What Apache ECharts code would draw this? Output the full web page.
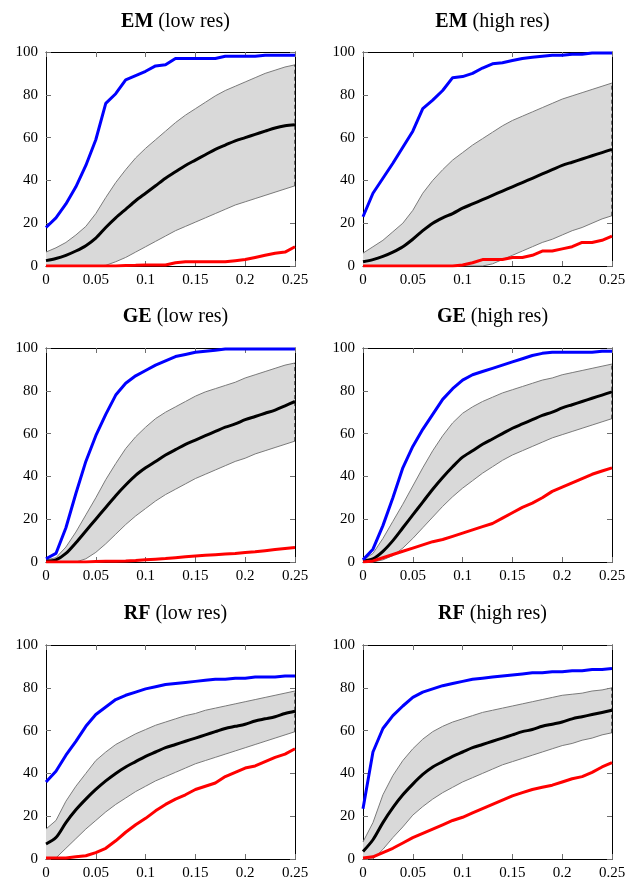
<!DOCTYPE html>
<html><head><meta charset="utf-8">
<script src="https://cdn.jsdelivr.net/npm/echarts@6/dist/echarts.min.js"></script>
<style>html,body{margin:0;padding:0;background:#fff}#c{width:641px;height:881px}</style>
</head><body><div id="c"></div>
<script>
const xValues = [0,0.01,0.02,0.03,0.04,0.05,0.06,0.07,0.08,0.09,0.1,0.11,0.12,0.13,0.14,0.15,0.16,0.17,0.18,0.19,0.2,0.21,0.22,0.23,0.24,0.25];
const xTickLabels = ['0','0.05','0.1','0.15','0.2','0.25'];

// EM (low res)
const emLowBlue  = [18,22.5,29,37,47,59,76,80.5,87,89,91,93.5,94,97,97,97,97,97,98,98,98,98,98.5,98.5,98.5,98.5];
const emLowMean  = [2.5,3.5,5,7,9.5,13,18,22.5,26.5,30.5,34,37.5,41,44,47,49.5,52,54.5,56.5,58.5,60,61.5,63,64.5,65.5,66];
const emLowUpper = [6.5,8.5,11,14.5,18.5,24.5,32,39,45,50.5,55,59,63,67,70.5,73.5,76.5,79.5,82,84,86,88,90,91.5,93,94];
const emLowLower = [0,0,0,0,0,0,0.3,2,4,6.5,9,11.5,14,16.5,18.5,20.5,22.5,24.5,26.5,28.5,30,31.5,33,34.5,36,37.5];
const emLowRed   = [0,0,0,0,0,0,0,0,0.2,0.3,0.5,0.5,0.5,1.5,2,2,2,2,2,2.5,3,4,5,6,6.5,9];

// EM (high res)
const emHighBlue  = [23,34,41,48,55.5,63,73.5,77.5,82,88,88.5,90,92.5,94.5,95,96,97,97.5,98,98.5,98.5,99,99,99.5,99.5,99.5];
const emHighMean  = [2,3,4.5,6.5,9,12.5,16.5,20,22.5,24.5,27,29,31,33,35,37,39,41,43,45,47,48.5,50,51.5,53,54.5];
const emHighUpper = [6,9,12,16,20,26,34,40,45,49.5,53,56.5,59.5,62.5,65.5,68,70,72,74,76,78,79.5,81,82.5,84,85.5];
const emHighLower = [0,0,0,0,0,0,0,0,0,0,0,0,0,1,3,5,7,9,11,12.5,14.5,16.5,18,20,22,23.5];
const emHighRed   = [0,0,0,0,0,0,0,0,0,0,0.5,1.5,3,3,3,4,4,5,7,7,8,9,11,11,12,14];

// GE (low res)
const geLowBlue  = [1.5,4,16,32,47,59,69,78,83.5,87,89.5,92,94,96,97,98,98.5,99,99.5,99.5,99.5,99.5,99.5,99.5,99.5,99.5];
const geLowMean  = [0.5,1,4,9,14.5,20,25.5,31,36,40.5,44,47,50,52.5,55,57,59,61,63,64.5,66.5,68,69.5,71,73,75];
const geLowUpper = [1,2,7,14,22,30,38.5,46,53,58.5,63,67,70,72.5,75,77.5,79.5,81,82.5,84,86,87.5,89,90.5,92,93];
const geLowLower = [0,0,0,0,1.5,4.5,8.5,13,17.5,21.5,25,28.5,31.5,34,36.5,39,41,43,45,47,48.5,50.5,52,53.5,55,56.5];
const geLowRed   = [0,0,0,0,0,0.2,0.3,0.4,0.5,0.7,1,1.3,1.6,2,2.4,2.8,3.1,3.4,3.7,4,4.4,4.8,5.3,5.8,6.3,6.8];

// GE (high res)
const geHighBlue  = [1,6,17,30,44,54,62,69,76,81,85,87.5,89,90.5,92,93.5,95,96.5,97.5,98,98,98,98,98,98.5,98.5];
const geHighMean  = [0.5,1.5,5,10,16,22,28,34,39.5,44.5,49,52,55,57.5,60,62.5,64.5,66.5,68.5,70,72,73.5,75,76.5,78,79.5];
const geHighUpper = [1,4,11,19,27,35.5,44,52,59,65,69.5,72.5,75,77,79,80.5,82,83.5,85,86,87.5,88.5,89.5,90.5,91.5,92.5];
const geHighLower = [0,0,1,3,6.5,11,16,21,26,30.5,34.5,38,41.5,44.5,47.5,50,52,54,56,58,59.5,61,62.5,64,65.5,67];
const geHighRed   = [0,0.5,2,3.5,5,6.5,8,9.5,10.5,12,13.5,15,16.5,18,20.5,23,25.5,27.5,30,33,35,37,39,41,42.5,44];

// RF (low res)
const rfLowBlue  = [36,41,48.5,55,62,67.5,71,74.5,76.5,78,79.5,80.5,81.5,82,82.5,83,83.5,84,84,84.5,84.5,85,85,85,85.5,85.5];
const rfLowMean  = [7,10,17,23,28,32.5,36.5,40,43,45.5,48,50,52,53.5,55,56.5,58,59.5,61,62,63,64.5,65.5,66.5,68,69];
const rfLowUpper = [14,18,27,34,40,46,50,53.5,56,58.5,60.5,62.5,64,65.5,67,68,69.5,70.5,71.5,72.5,73.5,74.5,75.5,76.5,77.5,78.5];
const rfLowLower = [0,0.5,5,9.5,14,18,22,25.5,28.5,31.5,34,36.5,38.5,40.5,42.5,44.5,46,47.5,49,50.5,52,53.5,55,56.5,58,59.5];
const rfLowRed   = [0.5,0.5,0.5,1,1.5,3,5,8.5,12.5,16,19,22.5,25.5,28,30,32.5,34,35.5,38.5,40.5,42.5,43.5,45.5,47.5,49,51.5];

// RF (high res)
const rfHighBlue  = [23.5,50,61,67,71.5,75.5,78,79.5,81,82,83,84,84.5,85,85.5,86,86.5,87,87,87.5,87.5,88,88,88.5,88.5,89];
const rfHighMean  = [3.5,9,17,24,30,35,39.5,43,45.5,48,50,52,53.5,55,56.5,58,59.5,60.5,62,63,64,65.5,66.5,67.5,68.5,69.5];
const rfHighUpper = [8,17,30,39,46,51.5,56,59.5,62,64,65.5,67,68.5,69.5,70.5,71.5,72.5,73.5,74.5,75.5,76.5,77,77.5,78.5,79,80];
const rfHighLower = [0,0,4.5,10,15,20.5,24.5,28,31,33.5,36,38,40,42,44,45.5,47,48.5,50,51.5,53,54,55.5,56.5,58,59];
const rfHighRed   = [0.5,1,3,5,7.5,10,12,14,16,18,19.5,21.5,23.5,25.5,27.5,29.5,31,32.5,33.5,34.5,36,37.5,38.5,40.5,43,45];

const titleBold = ['EM','EM','GE','GE','RF','RF'];
const titleRest = ['(low res)','(high res)','(low res)','(high res)','(low res)','(high res)'];

const panels = [
  {blue: emLowBlue, mean: emLowMean, upper: emLowUpper, lower: emLowLower, red: emLowRed},
  {blue: emHighBlue, mean: emHighMean, upper: emHighUpper, lower: emHighLower, red: emHighRed},
  {blue: geLowBlue, mean: geLowMean, upper: geLowUpper, lower: geLowLower, red: geLowRed},
  {blue: geHighBlue, mean: geHighMean, upper: geHighUpper, lower: geHighLower, red: geHighRed},
  {blue: rfLowBlue, mean: rfLowMean, upper: rfLowUpper, lower: rfLowLower, red: rfLowRed},
  {blue: rfHighBlue, mean: rfHighMean, upper: rfHighUpper, lower: rfHighLower, red: rfHighRed}
];

// layout
const gridLeft = [46, 363, 46, 363, 46, 363];
const gridTop = [52, 52, 348, 348, 645, 645];
const titleTop = [7, 7, 302, 302, 599, 599];
const GW = 249, GH = 214;
const FONT = '"Liberation Serif", "DejaVu Serif", serif';

const pair = (ys) => xValues.map((x, k) => [x, ys[k]]);

const option = {animation: false, title: [], grid: [], xAxis: [], yAxis: [], series: []};

panels.forEach((p, i) => {
  option.title.push({
    text: '{b|' + titleBold[i] + '} ' + titleRest[i],
    left: gridLeft[i] + GW / 2, top: titleTop[i], textAlign: 'center',
    textStyle: {fontFamily: FONT, fontSize: 20, fontWeight: 'normal', color: '#000',
      rich: {b: {fontFamily: FONT, fontSize: 20, fontWeight: 'bold', color: '#000'}}}
  });
  option.grid.push({left: gridLeft[i], top: gridTop[i], width: GW, height: GH, containLabel: false});
  const tick = {show: true, inside: true, length: 5, lineStyle: {color: '#6e6e6e', width: 1}};
  const line = {show: true, onZero: false, lineStyle: {color: '#000', width: 1}};
  option.xAxis.push({
    type: 'value', gridIndex: i, position: 'bottom', min: 0, max: 0.25, interval: 0.05,
    axisLine: line, axisTick: tick, splitLine: {show: false},
    axisLabel: {show: true, margin: 7, color: '#000', fontFamily: FONT, fontSize: 15,
      formatter: (v) => xTickLabels[Math.round(v / 0.05)]}
  });
  option.xAxis.push({
    type: 'value', gridIndex: i, position: 'top', min: 0, max: 0.25, interval: 0.05,
    axisLine: line, axisTick: tick, splitLine: {show: false}, axisLabel: {show: false}
  });
  option.yAxis.push({
    type: 'value', gridIndex: i, position: 'left', min: 0, max: 100, interval: 20,
    axisLine: line, axisTick: tick, splitLine: {show: false},
    axisLabel: {show: true, margin: 8, color: '#000', fontFamily: FONT, fontSize: 15}
  });
  option.yAxis.push({
    type: 'value', gridIndex: i, position: 'right', min: 0, max: 100, interval: 20,
    axisLine: line, axisTick: tick, splitLine: {show: false}, axisLabel: {show: false}
  });
  const xi = 2 * i, yi = 2 * i;
  // shaded band between upper and lower
  option.series.push({
    type: 'custom', xAxisIndex: xi, yAxisIndex: yi, z: 1, clip: true,
    data: [[0, 0]],
    renderItem: (params, api) => {
      const pts = [];
      for (let k = 0; k < xValues.length; k++) pts.push(api.coord([xValues[k], p.upper[k]]));
      for (let k = xValues.length - 1; k >= 0; k--) pts.push(api.coord([xValues[k], p.lower[k]]));
      return {type: 'polygon', shape: {points: pts}, style: {fill: '#d9d9d9', stroke: null}};
    }
  });
  const thin = {color: '#7a7a7a', width: 1};
  option.series.push({type: 'line', xAxisIndex: xi, yAxisIndex: yi, z: 2, data: pair(p.upper), symbol: 'none', lineStyle: thin, itemStyle: {color: '#7a7a7a'}});
  option.series.push({type: 'line', xAxisIndex: xi, yAxisIndex: yi, z: 2, data: pair(p.lower), symbol: 'none', lineStyle: thin, itemStyle: {color: '#7a7a7a'}});
  const last = xValues.length - 1;
  option.series.push({type: 'line', xAxisIndex: xi, yAxisIndex: yi, z: 2, symbol: 'none',
    data: [[xValues[last], p.lower[last]], [xValues[last], p.upper[last]]],
    lineStyle: {color: '#000', width: 1, type: [4, 3]}, itemStyle: {color: '#000'}});
  option.series.push({type: 'line', xAxisIndex: xi, yAxisIndex: yi, z: 3, data: pair(p.mean), symbol: 'none', smooth: 0.3, lineStyle: {color: '#000', width: 3}, itemStyle: {color: '#000'}});
  option.series.push({type: 'line', xAxisIndex: xi, yAxisIndex: yi, z: 4, data: pair(p.blue), symbol: 'none', lineStyle: {color: '#0000ff', width: 3}, itemStyle: {color: '#0000ff'}});
  option.series.push({type: 'line', xAxisIndex: xi, yAxisIndex: yi, z: 4, data: pair(p.red), symbol: 'none', lineStyle: {color: '#ff0000', width: 3}, itemStyle: {color: '#ff0000'}});
});

const chart = echarts.init(document.getElementById('c'), null, {renderer: 'canvas'});
chart.setOption(option);
</script>
</body></html>
